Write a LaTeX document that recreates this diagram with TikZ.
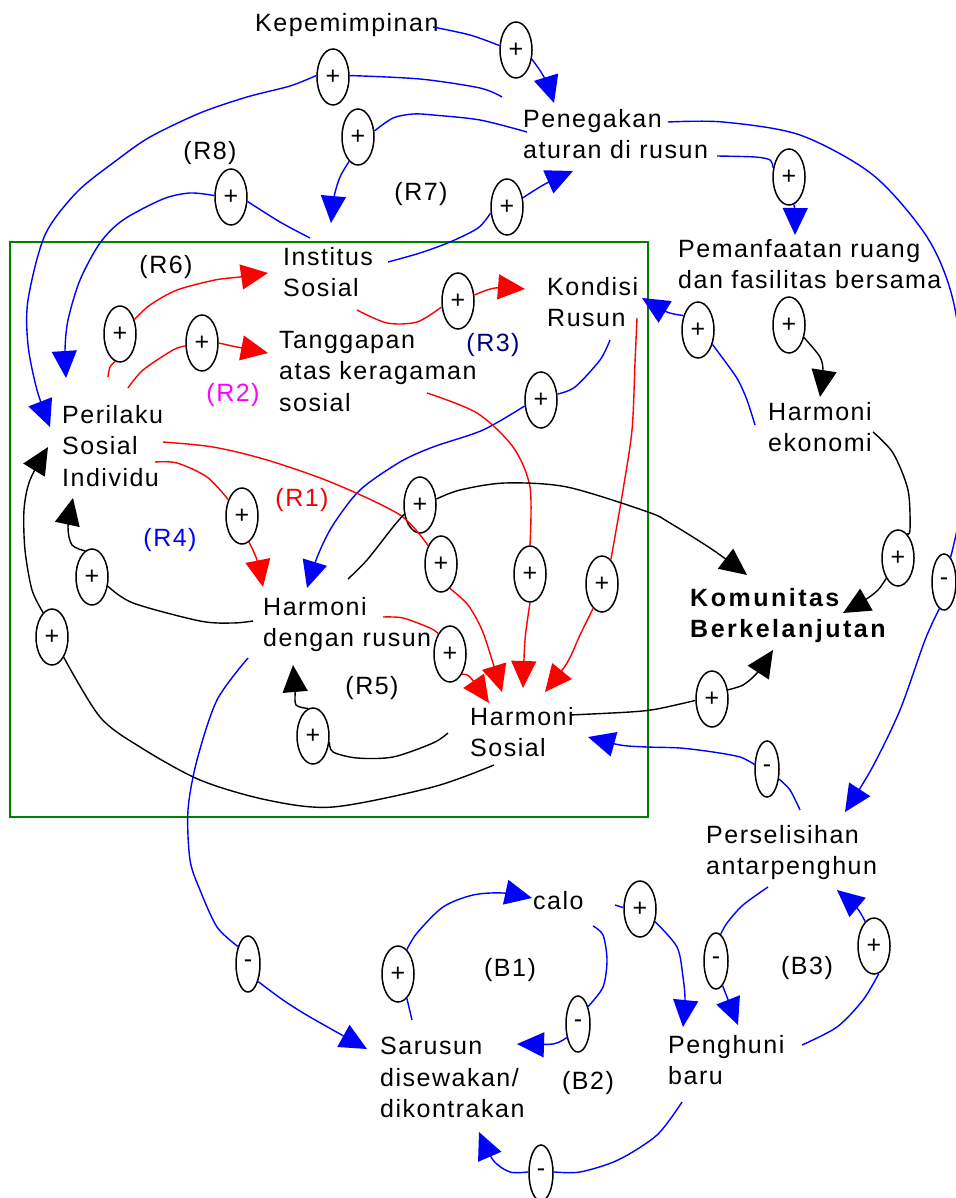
\documentclass[tikz,border=0pt]{standalone}
\usepackage{fontspec}
\setmainfont{Liberation Sans}[LetterSpace=6]
\usetikzlibrary{arrows.meta,shapes.geometric}
\definecolor{cbl}{RGB}{0,0,255}
\definecolor{crd}{RGB}{255,0,0}
\definecolor{cgr}{RGB}{0,128,0}
\definecolor{cmg}{RGB}{255,0,255}
\definecolor{cnv}{RGB}{0,0,128}
\begin{document}
\begin{tikzpicture}[x=1pt,y=-1pt,
  lbl/.style={anchor=north west, align=left, inner sep=0pt, font=\fontsize{25}{31.5}\selectfont},
  loop/.style={inner sep=0pt, font=\fontsize{25}{30}\selectfont},
  pp/.style={ellipse, draw, line width=1.5pt, minimum width=32pt, minimum height=56pt, inner sep=0pt, font=\fontsize{25}{30}\selectfont, fill=white},
  mm/.style={pp, minimum width=24pt},
  ln/.style={line width=1.4pt},
  lb/.style={ln, cbl},
  lr/.style={ln, crd},
  lk/.style={ln, black},
  arr/.style={-{Triangle[length=27pt,width=25pt]}},
]
\useasboundingbox (0,0) rectangle (955,1198);
% frame
\draw[cgr, line width=1.5pt] (10,242) rectangle (648,817);

% text nodes
\node[lbl] (kep) at (255,13) {Kepemimpinan};
\node[lbl] (pen) at (523,109) {Penegakan\\aturan di rusun};
\node[lbl] (ins) at (283,247) {Institus\\Sosial};
\node[lbl] (kon) at (547,277) {Kondisi\\Rusun};
\node[lbl] (pem) at (678,239) {Pemanfaatan ruang\\dan fasilitas bersama};
\node[lbl] (tan) at (279,331) {Tanggapan\\atas keragaman\\sosial};
\node[lbl] (per) at (62,405) {Perilaku\\Sosial\\Individu};
\node[lbl] (hek) at (768,402) {Harmoni\\ekonomi};
\node[lbl, font=\fontsize{25}{31.5}\selectfont\bfseries\addfontfeature{LetterSpace=10}] (kom) at (690,588) {Komunitas\\Berkelanjutan};
\node[lbl] (hdr) at (263,597) {Harmoni\\dengan rusun};
\node[lbl] (hso) at (470,707) {Harmoni\\Sosial};
\node[lbl] (prs) at (706,825) {Perselisihan\\antarpenghun};
\node[lbl] (calo) at (533,891) {calo};
\node[lbl] (sar) at (380,1037) {Sarusun\\disewakan/\\dikontrakan};
\node[lbl] (phb) at (668,1035) {Penghuni\\baru};

% loop labels
\node[loop] (r8) at (210,153) {(R8)};
\node[loop] (r7) at (421,194) {(R7)};
\node[loop] (r6) at (166,267) {(R6)};
\node[loop, text=cmg] (r2) at (233,395) {(R2)};
\node[loop, text=cnv] (r3) at (493,345) {(R3)};
\node[loop, text=crd] (r1) at (302,500) {(R1)};
\node[loop, text=cbl] (r4) at (170,540) {(R4)};
\node[loop] (r5) at (372,688) {(R5)};
\node[loop] (b1) at (510,970) {(B1)};
\node[loop] (b2) at (588,1083) {(B2)};
\node[loop] (b3) at (807,968) {(B3)};

% polarity ellipses
\node[pp] (e1) at (516,50) {+};
\node[pp] (e2) at (333,77) {+};
\node[pp] (e3) at (358,137) {+};
\node[pp] (e4) at (231,197) {+};
\node[pp] (e5) at (507,207) {+};
\node[pp] (e6) at (789,177) {+};
\node[pp] (e7) at (120,334) {+};
\node[pp] (e8) at (202,343) {+};
\node[pp] (e9) at (458,301) {+};
\node[pp] (e10) at (698,330) {+};
\node[pp] (e11) at (789,325) {+};
\node[pp] (e12) at (541,400) {+};
\node[pp] (e13) at (242,516) {+};
\node[pp] (e14) at (420,505) {+};
\node[pp] (e15) at (441,564) {+};
\node[pp] (e16) at (530,574) {+};
\node[pp] (e17) at (602,584) {+};
\node[pp] (e18) at (450,654) {+};
\node[pp] (e19) at (92,577) {+};
\node[pp] (e20) at (52,637) {+};
\node[pp] (e21) at (313,736) {+};
\node[pp] (e22) at (712,699) {+};
\node[pp] (e23) at (898,558) {+};
\node[mm] (e24) at (944,582) {-};
\node[mm] (e25) at (767,769) {-};
\node[mm] (e26) at (248,964) {-};
\node[pp] (e27) at (398,974) {+};
\node[mm] (e28) at (578,1024) {-};
\node[pp] (e29) at (640,909) {+};
\node[mm] (e30) at (716,961) {-};
\node[pp] (e31) at (874,946) {+};
\node[mm] (e32) at (541,1173) {-};

% A Kepemimpinan -> Penegakan
\path (433,27) coordinate (sA) (554,103) coordinate (tA);
\draw[lb] plot[smooth] coordinates {(sA) (470,35) (e1.165)};
\draw[lb,arr] plot[smooth] coordinates {(e1.-30) (541,72) (548,85) (tA)};
% B Penegakan -> Perilaku (outer)
\path (502,97) coordinate (sB) (50,427) coordinate (tB);
\draw[lb] plot[smooth] coordinates {(sB) (480,88) (420,79) (e2.5)};
\draw[lb,arr] plot[smooth] coordinates {(e2.175) (290,86) (247,97) (200,113) (150,137) (117,160) (77,192) (45,235) (28,300) (28,345) (37,390) (tB)};
% C Penegakan -> Institus
\path (527,132) coordinate (sC) (331,223) coordinate (tC);
\draw[lb] plot[smooth] coordinates {(sC) (480,120) (433,115) (413,114) (393,118) (e3.20)};
\draw[lb,arr] plot[smooth] coordinates {(e3.-110) (340,177) (334,197) (tC)};
% D Institus -> Perilaku (R8)
\path (310,238) coordinate (sD) (66,378) coordinate (tD);
\draw[lb] plot[smooth] coordinates {(sD) (280,222) (e4.-15)};
\draw[lb,arr] plot[smooth] coordinates {(e4.175) (190,193) (163,199) (123,220) (100,243) (80,280) (68,320) (65,350) (tD)};
% E Institus -> Penegakan
\path (388,262) coordinate (sE) (573,171) coordinate (tE);
\draw[lb] plot[smooth] coordinates {(sE) (420,253) (450,242) (478,228) (e5.200)};
\draw[lb,arr] plot[smooth] coordinates {(e5.30) (545,184) (tE)};
% F Penegakan -> Pemanfaatan
\path (717,156) coordinate (sF) (795,235) coordinate (tF);
\draw[lb] plot[smooth] coordinates {(sF) (755,157) (770,160) (e6.150)};
\draw[lb,arr] plot[smooth] coordinates {(e6.-80) (795,212) (tF)};
% G Penegakan -> Perselisihan
\path (668,122) coordinate (sG) (845,812) coordinate (tG);
\draw[lb] plot[smooth] coordinates {(sG) (723,122) (800,135) (873,175) (927,237) (953,300) (966,400) (962,500) (e24.75)};
\draw[lb,arr] plot[smooth] coordinates {(e24.-100) (925,640) (900,710) (872,768) (tG)};
% H Perilaku -> Institus (R6)
\path (108,377) coordinate (sH) (268,273) coordinate (tH);
\draw[lr] plot[smooth] coordinates {(sH) (110,367) (e7.-100)};
\draw[lr,arr] plot[smooth] coordinates {(e7.45) (150,305) (177,290) (215,280) (240,277) (tH)};
% I Perilaku -> Tanggapan
\path (128,388) coordinate (sI) (268,353) coordinate (tI);
\draw[lr] plot[smooth] coordinates {(sI) (143,370) (173,350) (e8.190)};
\draw[lr,arr] plot[smooth] coordinates {(e8.0) (237,347) (tI)};
% J Institus -> Kondisi
\path (357,310) coordinate (sJ) (525,289) coordinate (tJ);
\draw[lr] plot[smooth] coordinates {(sJ) (387,323) (417,322) (e9.200)};
\draw[lr,arr] plot[smooth] coordinates {(e9.20) (495,288) (tJ)};
% K Harmoni ekonomi -> Kondisi
\path (755,425) coordinate (sK) (642,298) coordinate (tK);
\draw[lb] plot[smooth] coordinates {(sK) (747,400) (738,380) (727,364) (e10.-45)};
\draw[lb,arr] plot[smooth] coordinates {(e10.135) (667,312) (tK)};
% L Pemanfaatan -> Harmoni ekonomi
\path (820,397) coordinate (tL);
\draw[lk,arr] plot[smooth] coordinates {(e11.-40) (820,357) (823,372) (tL)};
% M Kondisi -> Harmoni dengan rusun
\path (610,340) coordinate (sM) (307,588) coordinate (tM);
\draw[lb] plot[smooth] coordinates {(sM) (600,360) (575,387) (e12.20)};
\draw[lb,arr] plot[smooth] coordinates {(e12.200) (483,430) (433,447) (400,462) (360,490) (333,525) (318,555) (tM)};
% N Perilaku -> Harmoni dengan rusun
\path (155,462) coordinate (sN) (263,587) coordinate (tN);
\draw[lr] plot[smooth] coordinates {(sN) (177,463) (207,477) (e13.130)};
\draw[lr,arr] plot[smooth] coordinates {(e13.-75) (257,560) (tN)};
% O Perilaku -> Harmoni Sosial
\path (163,442) coordinate (sO) (502,692) coordinate (tO);
\draw[lr] plot[smooth] coordinates {(sO) (213,447) (267,460) (333,483) (400,515) (e15.125)};
\draw[lr,arr] plot[smooth] coordinates {(e15.-70) (468,605) (482,630) (493,663) (tO)};
% P Tanggapan -> Harmoni Sosial
\path (427,393) coordinate (sP) (523,688) coordinate (tP);
\draw[lr] plot[smooth] coordinates {(sP) (477,413) (513,447) (530,487) (e16.90)};
\draw[lr,arr] plot[smooth] coordinates {(e16.-90) (525,640) (tP)};
% Q Kondisi -> Harmoni Sosial
\path (637,318) coordinate (sQ) (545,692) coordinate (tQ);
\draw[lr] plot[smooth] coordinates {(sQ) (635,363) (632,430) (623,490) (e17.70)};
\draw[lr,arr] plot[smooth] coordinates {(e17.-110) (580,635) (567,663) (tQ)};
% R Harmoni dengan rusun -> Komunitas
\path (348,579) coordinate (sR) (747,575) coordinate (tR);
\draw[lk] plot[smooth] coordinates {(sR) (367,560) (393,527) (e14.-150)};
\draw[lk,arr] plot[smooth] coordinates {(e14.20) (460,490) (505,483) (567,487) (648,512) (670,523) (713,550) (tR)};
% S Harmoni dengan rusun -> Harmoni Sosial
\path (383,617) coordinate (sS) (489,703) coordinate (tS);
\draw[lr] plot[smooth] coordinates {(sS) (403,618) (430,628) (e18.120)};
\draw[lr,arr] plot[smooth] coordinates {(e18.-60) (470,677) (tS)};
% T Harmoni dengan rusun -> Perilaku (R4)
\path (253,621) coordinate (sT) (73,498) coordinate (tT);
\draw[lk] plot[smooth] coordinates {(sT) (233,623) (200,621) (133,603) (e19.-30)};
\draw[lk,arr] plot[smooth] coordinates {(e19.105) (72,545) (68,527) (tT)};
% U Harmoni Sosial -> Perilaku (big arc)
\path (494,765) coordinate (sU) (48,447) coordinate (tU);
\draw[lk] plot[smooth] coordinates {(sU) (433,787) (333,807) (267,800) (200,780) (140,747) (100,717) (e20.-60)};
\draw[lk,arr] plot[smooth] coordinates {(e20.110) (32,590) (25,550) (24,510) (30,480) (tU)};
% V Harmoni Sosial -> Harmoni dengan rusun (R5)
\path (448,733) coordinate (sV) (293,665) coordinate (tV);
\draw[lk] plot[smooth] coordinates {(sV) (433,743) (393,757) (357,758) (333,752) (e21.-20)};
\draw[lk,arr] plot[smooth] coordinates {(e21.100) (296,705) (295,690) (tV)};
% W Harmoni Sosial -> Komunitas
\path (570,715) coordinate (sW) (773,650) coordinate (tW);
\draw[lk] plot[smooth] coordinates {(sW) (630,712) (657,709) (e22.185)};
\draw[lk,arr] plot[smooth] coordinates {(e22.30) (743,685) (757,673) (tW)};
% X Harmoni ekonomi -> Komunitas
\path (873,432) coordinate (sX) (843,613) coordinate (tX);
\draw[lk] plot[smooth] coordinates {(sX) (893,453) (908,490) (910,530) (e23.70)};
\draw[lk,arr] plot[smooth] coordinates {(e23.-120) (878,590) (865,600) (tX)};
% Y Perselisihan -> Harmoni Sosial
\path (800,810) coordinate (sY) (588,737) coordinate (tY);
\draw[lb] plot[smooth] coordinates {(sY) (790,790) (e25.-40)};
\draw[lb,arr] plot[smooth] coordinates {(e25.160) (740,757) (713,752) (680,748) (647,747) (620,745) (tY)};
% Z Harmoni dengan rusun -> Sarusun
\path (248,658) coordinate (sZ) (367,1049) coordinate (tZ);
\draw[lb] plot[smooth] coordinates {(sZ) (217,700) (197,760) (188,810) (190,860) (200,890) (217,927) (e26.120)};
\draw[lb,arr] plot[smooth] coordinates {(e26.-60) (283,1000) (310,1017) (tZ)};
% AA Sarusun -> calo
\path (412,1020) coordinate (sAA) (532,898) coordinate (tAA);
\draw[lb] plot[smooth] coordinates {(sAA) (e27.-70)};
\draw[lb,arr] plot[smooth] coordinates {(e27.70) (417,933) (443,907) (473,895) (503,893) (tAA)};
% AB calo -> Sarusun
\path (593,926) coordinate (sAB) (517,1044) coordinate (tAB);
\draw[lb] plot[smooth] coordinates {(sAB) (603,935) (607,960) (603,987) (e28.60)};
\draw[lb,arr] plot[smooth] coordinates {(e28.-130) (553,1044) (tAB)};
% AC calo -> Penghuni baru
\path (615,905) coordinate (sAC) (683,1027) coordinate (tAC);
\draw[lb] plot[smooth] coordinates {(sAC) (e29.175)};
\draw[lb,arr] plot[smooth] coordinates {(e29.-40) (677,947) (683,977) (685,1000) (tAC)};
% AD Perselisihan -> Penghuni baru
\path (768,887) coordinate (sAD) (738,1025) coordinate (tAD);
\draw[lb] plot[smooth] coordinates {(sAD) (743,905) (727,923) (e30.80)};
\draw[lb,arr] plot[smooth] coordinates {(e30.-75) (727,997) (tAD)};
% AE Penghuni baru -> Perselisihan
\path (802,1045) coordinate (sAE) (837,890) coordinate (tAE);
\draw[lb] plot[smooth] coordinates {(sAE) (837,1027) (863,1000) (e31.-80)};
\draw[lb,arr] plot[smooth] coordinates {(e31.110) (857,908) (tAE)};
% AF Penghuni baru -> Sarusun
\path (682,1102) coordinate (sAF) (479,1132) coordinate (tAF);
\draw[lb] plot[smooth] coordinates {(sAF) (657,1135) (618,1160) (580,1172) (e32.5)};
\draw[lb,arr] plot[smooth] coordinates {(e32.175) (510,1172) (493,1160) (tAF)};
\end{tikzpicture}
\end{document}
